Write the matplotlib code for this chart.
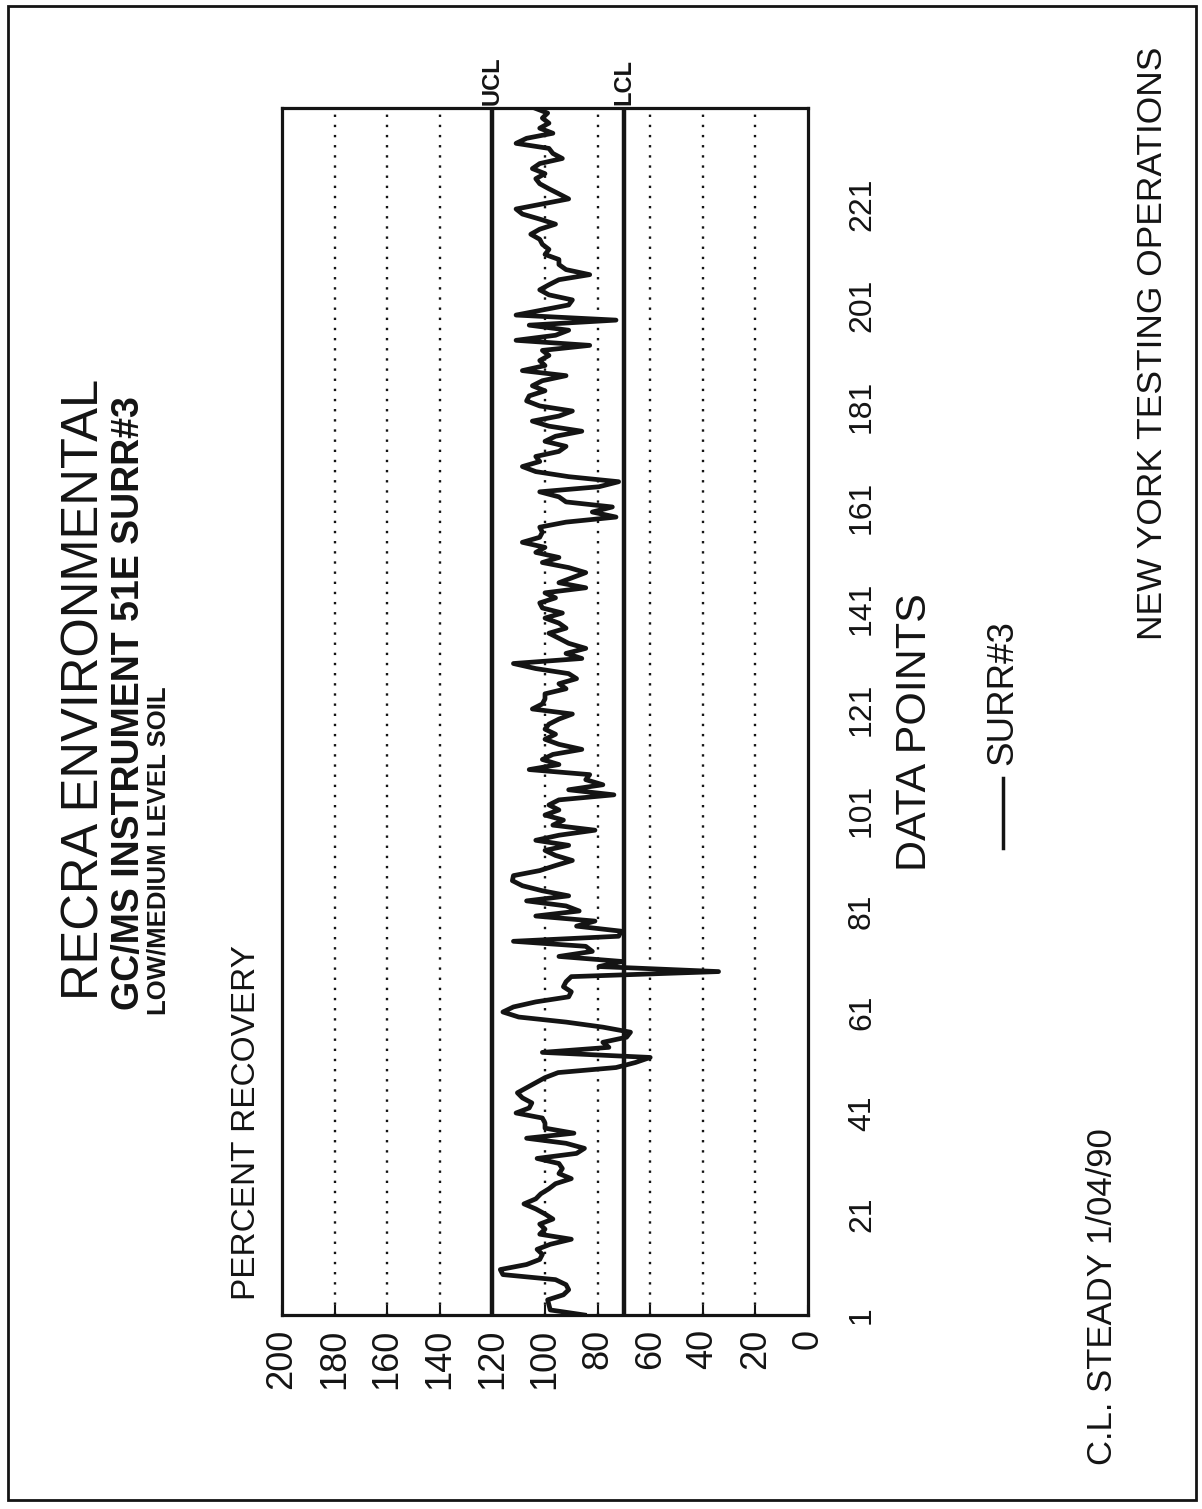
import numpy as np
import matplotlib
matplotlib.use('Agg')
from matplotlib import pyplot as plt
from matplotlib.lines import Line2D
from matplotlib.patches import Rectangle

# percent recovery of SURR#3, one value per data point
surr3 = [
    85, 98, 98.5, 99, 93, 91, 92, 96, 116, 117,
    107, 102, 101, 103, 98, 90, 102, 100, 102, 97,
    100, 103.5, 108, 103.5, 101.6, 98.5, 96, 90, 94.7, 93.4,
    94.7, 103, 88, 85, 92, 107, 89, 100, 100, 101,
    111, 106, 105, 108.6, 110.5, 107, 103.5, 100, 95, 73,
    65.6, 60, 101, 75.7, 78, 69, 67.5, 78, 92, 110,
    116, 112, 103.5, 91, 90, 93, 92, 90, 34, 79.5,
    70.6, 94.7, 82, 84.5, 112, 72, 71, 88, 81, 103.5,
    87, 92, 107, 91, 101, 108.6, 112.4, 112, 102, 96,
    89.6, 96, 100, 91, 103.5, 94.7, 81, 97, 93, 100,
    94.7, 98.5, 94.7, 73.8, 91, 78, 84.5, 83, 106, 94.7,
    101, 97, 86, 94.7, 100, 96, 100, 98.5, 94.7, 89.6,
    104.8, 101, 100, 100, 92, 94.7, 88, 91, 103.5, 112,
    86, 92, 84.5, 91, 94.7, 98.5, 92, 94.7, 100, 93.4,
    101, 102, 96, 100, 84.5, 94.7, 89.6, 84.5, 91, 101,
    94.7, 103.5, 100, 108.6, 102, 101, 102, 92, 73, 82,
    74.4, 92, 94.7, 102, 79.5, 72, 91, 103.5, 108.6, 102,
    103.5, 94.7, 92, 100, 96, 86, 98.5, 104.8, 94.7, 89.6,
    102, 107, 106, 100, 104.8, 101, 92, 108.6, 100, 102,
    98.5, 101, 83, 111, 96, 91, 106, 73, 111, 101,
    91, 89.6, 98.5, 102, 98.5, 94.7, 83, 92, 94.7, 94.7,
    100, 98.5, 101, 102, 105.4, 102, 96, 102, 108.6, 111,
    101, 91, 94.7, 98.5, 102, 103.5, 100, 104.8, 102, 93.4,
    97, 98.5, 111, 107, 97, 102, 98.5, 101, 99, 104,
]
ucl = 120
lcl = 70
pct_ticks = [0, 20, 40, 60, 80, 100, 120, 140, 160, 180, 200]
point_ticks = [1, 21, 41, 61, 81, 101, 121, 141, 161, 181, 201, 221]
grid_levels = [20, 40, 60, 80, 100, 140, 160, 180]

W, H = 1202, 1509
fig = plt.figure(figsize=(W / 100, H / 100), dpi=100)
ink = '#141414'
plt.rcParams['font.family'] = ['Liberation Sans', 'DejaVu Sans']


def ftext(x, y, s, size, **kw):
    # place rotated text by pixel position of the reference page
    kw.setdefault('rotation', 90)
    kw.setdefault('rotation_mode', 'anchor')
    kw.setdefault('ha', 'left')
    kw.setdefault('va', 'center')
    fig.text(x / W, 1 - y / H, s, fontsize=size, color=ink, **kw)


ax = fig.add_axes([282 / W, 1 - 1315 / H, (808 - 282) / W, (1315 - 108) / H])
points = np.arange(1, len(surr3) + 1)

for g in grid_levels:
    ax.axvline(g, color=ink, lw=1.7, ls=(0, (1, 3.3)))
ax.axvline(ucl, color=ink, lw=3.2)
ax.axvline(lcl, color=ink, lw=3.2)
ax.plot(surr3, points, color=ink, lw=3.4, solid_joinstyle='round')

ax.set_xlim(200, 0)
ax.set_ylim(1, 240)
ax.set_xticks(pct_ticks)
ax.set_xticklabels([str(t) for t in pct_ticks], rotation=90, fontsize=26)
ax.tick_params(axis='x', direction='in', length=7, width=1.5, pad=10, colors=ink)
ax.yaxis.tick_right()
ax.set_yticks(point_ticks)
ax.set_yticklabels([str(t) for t in point_ticks], rotation=90, fontsize=23, va='center')
ax.tick_params(axis='y', length=0, pad=28, colors=ink)
for sp in ax.spines.values():
    sp.set_linewidth(2.3)
    sp.set_color(ink)

ax.text(ucl, 240.5, 'UCL', rotation=90, ha='center', va='bottom', fontsize=17,
        fontweight='bold', color=ink)
ax.text(lcl, 240.5, 'LCL', rotation=90, ha='center', va='bottom', fontsize=17,
        fontweight='bold', color=ink)

# titles and page texts
ftext(85, 1000, 'RECRA ENVIRONMENTAL', 36.5)
ftext(129, 1010, 'GC/MS INSTRUMENT 51E SURR#3', 27, fontweight='bold')
ftext(159, 1015, 'LOW/MEDIUM LEVEL SOIL', 18.5, fontweight='bold')
ftext(246, 1300, 'PERCENT RECOVERY', 24)
ftext(915, 732, 'DATA POINTS', 31, ha='center')
fig.add_artist(Line2D([1003 / W, 1003 / W], [1 - 848 / H, 1 - 778 / H],
                      color=ink, lw=2.5, transform=fig.transFigure))
ftext(1003, 765, 'SURR#3', 26.5)
ftext(1102, 1465, 'C.L. STEADY 1/04/90', 25)
ftext(1152, 640, 'NEW YORK TESTING OPERATIONS', 25.5)

fig.patches.append(Rectangle((8 / W, 1 - 1500 / H), (1196 - 8) / W, (1500 - 6) / H,
                             transform=fig.transFigure, fill=False, lw=2, color=ink))

fig.savefig('out.png', dpi=100)
